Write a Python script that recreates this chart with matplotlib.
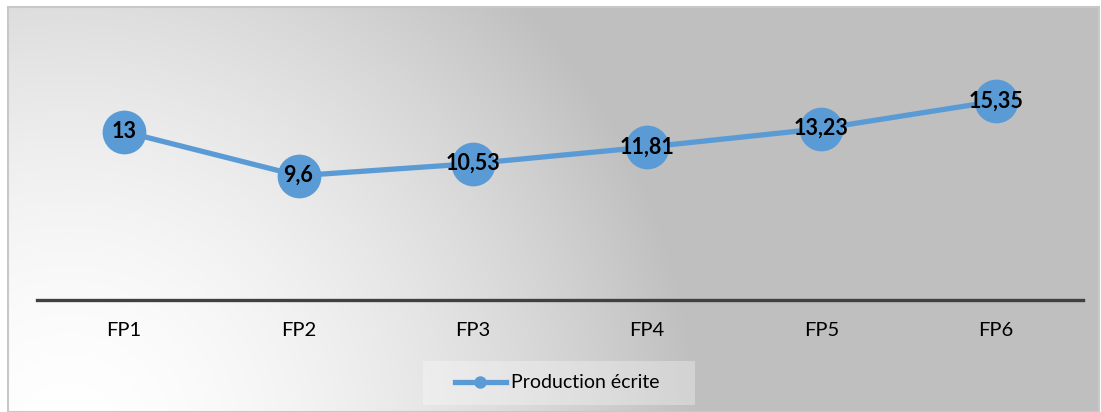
import numpy as np
import matplotlib.pyplot as plt
from matplotlib.patches import Rectangle
from matplotlib.lines import Line2D

plt.rcParams['font.family'] = ['Lato', 'DejaVu Sans']

categories = ["FP1", "FP2", "FP3", "FP4", "FP5", "FP6"]
scores = [13, 9.6, 10.53, 11.81, 13.23, 15.35]
score_labels = ["13", "9,6", "10,53", "11,81", "13,23", "15,35"]
series_name = "Production écrite"

W, H = 1101, 412
fig = plt.figure(figsize=(W / 100, H / 100), dpi=100)

# background panel with a radial fade from the lower-left corner
bg = fig.add_axes([8 / W, 0, (1099 - 8) / W, (H - 7) / H])
bg.set_axis_off()
ny, nx = 405, 1091
yy, xx = np.mgrid[0:ny, 0:nx]
d = np.hypot(xx - 60, yy - 430) / 630.0
t = np.clip(d, 0, 1) ** 1.7
shade = 1.0 - (1.0 - 0.75) * t
bg.imshow(np.dstack([shade] * 3), aspect='auto', extent=[0, 1, 0, 1],
          origin='upper', interpolation='bilinear')
bg.set_xlim(0, 1)
bg.set_ylim(0, 1)
fig.patches.append(Rectangle((8 / W, 0), (1099 - 8) / W, (H - 7) / H,
                             transform=fig.transFigure, fill=False,
                             edgecolor='#c8c8c8', linewidth=1.5, zorder=5))

ax = fig.add_axes([37 / W, (H - 300) / H, (1083 - 37) / W, (300 - 41) / H])
ax.patch.set_alpha(0)
x = np.arange(len(categories))
ax.plot(x, scores, color='#5b9bd5', linewidth=3.8, marker='o',
        markersize=31.5, markeredgewidth=0, solid_capstyle='butt', zorder=3)
for xi, v, s in zip(x, scores, score_labels):
    ax.text(xi, v, s, ha='center', va='center', fontsize=15.5,
            fontweight='bold', color='black', zorder=4)

ax.set_xlim(-0.5, len(categories) - 0.5)
ax.set_ylim(0, 20)
ax.set_xticks(x)
ax.set_xticklabels(categories, fontsize=14.5)
ax.tick_params(axis='x', length=0, pad=16)
ax.set_yticks([])
for side in ['left', 'right', 'top']:
    ax.spines[side].set_visible(False)
ax.spines['bottom'].set_color('#404040')
ax.spines['bottom'].set_linewidth(2.4)

# legend box
fig.patches.append(Rectangle((423 / W, 1 - 405 / H), (695 - 423) / W, 44 / H,
                             transform=fig.transFigure, facecolor='white',
                             alpha=0.3, edgecolor='none', zorder=4))
handle = Line2D([], [], color='#5b9bd5', linewidth=3.8, marker='o',
                markersize=9, markeredgewidth=0)
leg = fig.legend([handle], [series_name], loc='center left',
                 bbox_to_anchor=(455 / W, 1 - 383 / H), fontsize=14,
                 handlelength=2.6, frameon=False, borderpad=0,
                 borderaxespad=0, handletextpad=0.3)
leg.set_zorder(6)

fig.savefig("out.png", dpi=100)
